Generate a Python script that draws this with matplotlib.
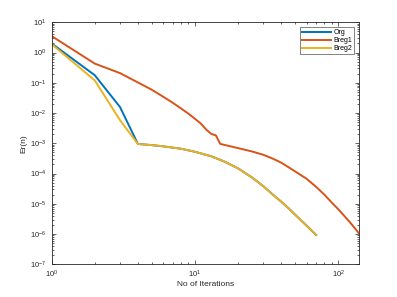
import numpy as np
import matplotlib
matplotlib.use("Agg")
import matplotlib.pyplot as plt
from matplotlib.ticker import FixedLocator, NullFormatter

plt.rcParams['font.family'] = ['Liberation Sans', 'DejaVu Sans']

# Org / Breg2 (coincide after iteration 4)
org_x = [1, 2, 3, 4]
org_y = [2.0, 0.178, 0.0158, 9.5e-4]
breg2_x = [1, 2, 3, 4]
breg2_y = [1.9, 0.12, 0.0058, 9.5e-4]

tail_x = [4, 5, 6, 8, 10, 13, 16, 20, 25, 30, 35, 40, 45, 50, 55, 60, 65, 70]
tail_logy = [-3.02, -3.06, -3.10, -3.18, -3.28, -3.43, -3.60, -3.83, -4.13,
             -4.42, -4.70, -4.93, -5.15, -5.36, -5.55, -5.72, -5.88, -6.03]

breg1_x = [1, 2, 3, 4, 5, 6, 7, 8, 9, 10, 11, 12, 13, 14, 15, 17, 20, 25, 30,
           35, 40, 50, 60, 70, 80, 90, 100, 110, 120, 130, 140]
breg1_logy = [0.544, -0.366, -0.68, -0.99, -1.23, -1.46, -1.66, -1.85, -2.02,
              -2.19, -2.35, -2.55, -2.69, -2.74, -3.02, -3.08, -3.16, -3.27,
              -3.38, -3.51, -3.64, -3.93, -4.17, -4.44, -4.70, -4.96, -5.18,
              -5.40, -5.60, -5.80, -5.99]

x_major = [1, 10, 100]
y_major_exp = [-7, -6, -5, -4, -3, -2, -1, 0, 1]

c_blue = (0.0, 0.447, 0.741)
c_red = (0.85, 0.325, 0.098)
c_yel = (0.929, 0.694, 0.125)

tail_y = [10 ** v for v in tail_logy]
ox = org_x + tail_x[1:]
oy = org_y + tail_y[1:]
yx = breg2_x + tail_x[1:]
yy = breg2_y + tail_y[1:]
rx = breg1_x
ry = [10 ** v for v in breg1_logy]

fig = plt.figure(figsize=(3.97, 2.97), dpi=100)
ax = fig.add_axes([0.13, 0.11, 0.775, 0.815])
lw = 1.4
ax.plot(ox, oy, color=c_blue, lw=lw, label='Org')
ax.plot(rx, ry, color=c_red, lw=lw, label='Breg1')
ax.plot(yx, yy, color=c_yel, lw=lw, label='Breg2')
ax.set_xscale('log')
ax.set_yscale('log')
ax.set_xlim(1, 140)
ax.set_ylim(1e-7, 10)

ax.set_xticks(x_major)
ax.set_yticks([10.0 ** e for e in y_major_exp])
ax.xaxis.set_minor_locator(FixedLocator(
    [m * 10 ** d for d in range(0, 3) for m in range(2, 10) if m * 10 ** d <= 140]))
ax.yaxis.set_minor_locator(FixedLocator(
    [m * 10.0 ** d for d in range(-7, 1) for m in range(2, 10)]))
ax.xaxis.set_minor_formatter(NullFormatter())
ax.yaxis.set_minor_formatter(NullFormatter())

dark = (0.15, 0.15, 0.15)
for s in ax.spines.values():
    s.set_color(dark)
    s.set_linewidth(0.6)
ax.tick_params(which='both', direction='in', top=True, right=True,
               colors=dark, labelsize=5.5, width=0.5)
ax.tick_params(which='major', length=3)
ax.tick_params(which='minor', length=1.5)
ax.tick_params(axis='x', pad=3)

ax.set_xlabel('No of Iterations', fontsize=6, color=dark, labelpad=1)
ax.set_ylabel('Er(n)', fontsize=6, color=dark, labelpad=2)

leg = ax.legend(loc='upper right', fontsize=5, frameon=True, fancybox=False,
                borderpad=0.3, labelspacing=0.15, handlelength=4.2,
                handletextpad=0.3, borderaxespad=0.7)
leg.get_frame().set_edgecolor(dark)
leg.get_frame().set_linewidth(0.5)

fig.savefig('out.png', dpi=100)
